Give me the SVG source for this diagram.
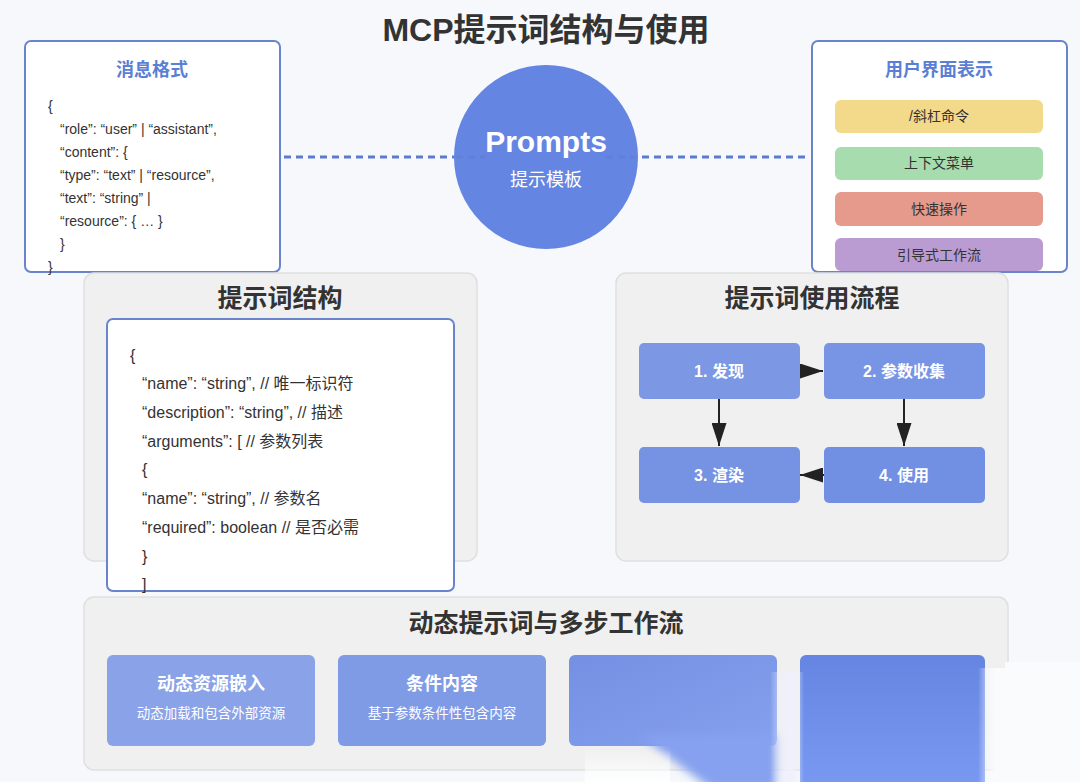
<svg xmlns="http://www.w3.org/2000/svg" width="1080" height="782" viewBox="0 0 1080 782">
<defs>
<style>
text{font-family:"Liberation Sans","Noto Sans CJK SC",sans-serif;}
.title{font-size:32px;font-weight:bold;fill:#333;text-anchor:middle;}
.ptitle{font-size:25px;font-weight:bold;fill:#333;text-anchor:middle;}
.btitle{font-size:18px;font-weight:bold;fill:#5a7fd4;text-anchor:middle;}
.code{font-size:14px;fill:#333;}
.code2{font-size:16px;fill:#333;}
.bar{font-size:14px;fill:#333;text-anchor:middle;}
.wbox{fill:#fff;stroke:#6a84cc;stroke-width:2;}
.panel{fill:#f0f0f0;stroke:#dfdfdf;stroke-width:1.5;}
.flow{font-size:16px;font-weight:bold;fill:#fff;text-anchor:middle;}
.ctitle{font-size:18px;font-weight:bold;fill:#fff;text-anchor:middle;}
.csub{font-size:13.5px;fill:#fff;text-anchor:middle;}
.arr{stroke:#222;stroke-width:2;fill:none;marker-end:url(#ah);}
.dash{stroke:#5b7bd2;stroke-width:3;stroke-dasharray:7,5;fill:none;}
</style>
<marker id="ah" markerUnits="userSpaceOnUse" markerWidth="23" markerHeight="15" refX="23" refY="7.5" orient="auto" viewBox="0 0 23 15">
<path d="M0,0 L23,7.5 L0,15 z" fill="#222"/>
</marker>
<linearGradient id="c3" x1="0" y1="0" x2="1" y2="1">
<stop offset="0" stop-color="#7590e2"/><stop offset="1" stop-color="#85a0ee"/>
</linearGradient>
<linearGradient id="c4" x1="0" y1="0" x2="0" y2="1">
<stop offset="0" stop-color="#6585e2"/><stop offset="1" stop-color="#7a9af2"/>
</linearGradient>
<linearGradient id="fadeR" x1="0" y1="0" x2="1" y2="0">
<stop offset="0" stop-color="#fafbfd" stop-opacity="0"/><stop offset="0.6" stop-color="#fafbfd" stop-opacity="1"/><stop offset="1" stop-color="#fafbfd" stop-opacity="1"/>
</linearGradient>
<linearGradient id="fadeMid" x1="0" y1="0" x2="1" y2="0">
<stop offset="0" stop-color="#eef1fc" stop-opacity="0"/><stop offset="0.6" stop-color="#eef1fc" stop-opacity="1"/><stop offset="1" stop-color="#eef1fc" stop-opacity="0"/>
</linearGradient>
<linearGradient id="fadeV" x1="0" y1="0" x2="0" y2="1">
<stop offset="0" stop-color="#fff" stop-opacity="0"/><stop offset="1" stop-color="#fff" stop-opacity="1"/>
</linearGradient>
<filter id="blur" x="-20%" y="-20%" width="140%" height="140%"><feGaussianBlur stdDeviation="5"/></filter>
</defs>
<rect width="1080" height="782" fill="#f6f8fb"/>
<text class="title" x="546" y="41">MCP提示词结构与使用</text>

<g id="connectors-dash">
<line class="dash" x1="284" y1="157" x2="486" y2="157"/>
<line class="dash" x1="606" y1="157" x2="808" y2="157"/>
</g>

<g id="prompts">
<circle cx="546" cy="157" r="92" fill="#6585e2"/>
<line class="dash" x1="456" y1="157" x2="486" y2="157" stroke-opacity="0.5"/>
<line class="dash" x1="606" y1="157" x2="636" y2="157" stroke-opacity="0.5"/>
<text x="546" y="152" font-size="30" font-weight="bold" fill="#fff" text-anchor="middle">Prompts</text>
<text x="546" y="186" font-size="18" fill="#fff" text-anchor="middle">提示模板</text>
</g>

<g id="msg-format">
<rect class="wbox" x="25" y="41" width="255" height="231" rx="6"/>
<text class="btitle" x="152" y="76">消息格式</text>
<text class="code" x="48" y="111">{</text>
<text class="code" x="60" y="134">“role”: “user” | “assistant”,</text>
<text class="code" x="60" y="157">“content”: {</text>
<text class="code" x="60" y="180">“type”: “text” | “resource”,</text>
<text class="code" x="60" y="203">“text”: “string” |</text>
<text class="code" x="60" y="226">“resource”: { … }</text>
<text class="code" x="60" y="249">}</text>
<text class="code" x="48" y="272">}</text>
</g>

<g id="ui-display">
<rect class="wbox" x="812" y="41" width="255" height="231" rx="6"/>
<text class="btitle" x="939" y="76">用户界面表示</text>
<rect x="835" y="100" width="208" height="33" rx="6" fill="#f3d98a"/>
<text class="bar" x="939" y="121">/斜杠命令</text>
<rect x="835" y="147" width="208" height="33" rx="6" fill="#a6dcae"/>
<text class="bar" x="939" y="168">上下文菜单</text>
<rect x="835" y="192" width="208" height="34" rx="6" fill="#e59a8b"/>
<text class="bar" x="939" y="214">快速操作</text>
<rect x="835" y="238" width="208" height="33" rx="6" fill="#bb9cd2"/>
<text class="bar" x="939" y="260">引导式工作流</text>
</g>

<g id="structure">
<rect class="panel" x="84" y="273" width="393" height="288" rx="10"/>
<text class="ptitle" x="280" y="307">提示词结构</text>
<rect class="wbox" x="107" y="319" width="347" height="272" rx="6"/>
<text class="code2" x="130" y="361">{</text>
<text class="code2" x="142" y="389">“name”: “string”, // 唯一标识符</text>
<text class="code2" x="142" y="418">“description”: “string”, // 描述</text>
<text class="code2" x="142" y="447">“arguments”: [ // 参数列表</text>
<text class="code2" x="142" y="475">{</text>
<text class="code2" x="142" y="504">“name”: “string”, // 参数名</text>
<text class="code2" x="142" y="533">“required”: boolean // 是否必需</text>
<text class="code2" x="142" y="562">}</text>
<text class="code2" x="142" y="590">]</text>
</g>

<g id="usage-flow">
<rect class="panel" x="616" y="273" width="392" height="288" rx="10"/>
<text class="ptitle" x="812" y="307">提示词使用流程</text>
<g id="step1"><rect x="639" y="343" width="161" height="56" rx="5" fill="#7c98e5"/><text class="flow" x="719" y="377">1. 发现</text></g>
<g id="step2"><rect x="824" y="343" width="161" height="56" rx="5" fill="#7894e4"/><text class="flow" x="904" y="377">2. 参数收集</text></g>
<g id="step3"><rect x="639" y="447" width="161" height="56" rx="5" fill="#7592e3"/><text class="flow" x="719" y="481">3. 渲染</text></g>
<g id="step4"><rect x="824" y="447" width="161" height="56" rx="5" fill="#718fe3"/><text class="flow" x="904" y="481">4. 使用</text></g>
</g>

<g id="connectors">
<line class="arr" x1="800" y1="371" x2="823" y2="371"/>
<line class="arr" x1="719" y1="399" x2="719" y2="446"/>
<line class="arr" x1="904" y1="399" x2="904" y2="446"/>
<line class="arr" x1="824" y1="475" x2="800" y2="475"/>
</g>

<g id="dynamic">
<rect class="panel" x="84" y="597" width="924" height="173" rx="10"/>
<text class="ptitle" x="546" y="632">动态提示词与多步工作流</text>
<g id="card1"><rect x="107" y="655" width="208" height="91" rx="6" fill="#8aa3e8"/>
<text class="ctitle" x="211" y="690">动态资源嵌入</text><text class="csub" x="211" y="718">动态加载和包含外部资源</text></g>
<g id="card2"><rect x="338" y="655" width="208" height="91" rx="6" fill="#809be6"/>
<text class="ctitle" x="442" y="690">条件内容</text><text class="csub" x="442" y="718">基于参数条件性包含内容</text></g>
<g id="card3"><rect x="569" y="655" width="208" height="91" rx="6" fill="url(#c3)"/>
<polygon points="640,735 777,735 777,790 712,790" fill="#85a1ef" filter="url(#blur)"/></g>
<g id="card4"><rect x="800" y="655" width="185" height="140" rx="6" fill="url(#c4)"/></g>
<rect x="585" y="749" width="85" height="33" fill="url(#fadeV)" opacity="0.9"/>
<rect x="770" y="672" width="34" height="110" fill="url(#fadeMid)"/>
<rect x="978" y="668" width="30" height="114" fill="url(#fadeR)"/>
<rect x="1005" y="662" width="75" height="120" fill="#fafbfd"/>
</g>
</svg>
